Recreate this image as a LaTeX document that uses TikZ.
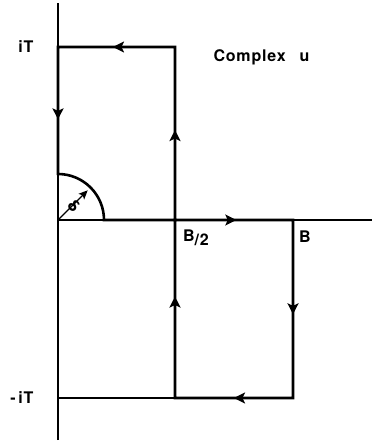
\documentclass[tikz,border=0pt]{standalone}
\usepackage{fontspec}
\setsansfont{TeX Gyre Heros}
\usetikzlibrary{arrows.meta,calc}

\tikzset{
	contour/.style={line width=2.6pt, line cap=rect},
	tipped/.style={line width=2.6pt, -{Stealth[length=11pt,width=11pt,inset=2.5pt]}},
	axis/.style={line width=1.1pt},
	lbl/.style={font=\sffamily\bfseries\fontsize{16}{18}\selectfont\addfontfeatures{LetterSpace=5}},
}

\begin{document}
\begin{tikzpicture}[x=1pt, y=1pt]

		\def\T{173}   % height of iT
		\def\mT{-178} % height of -iT
		\def\B{235}   % B
		\def\Bh{117}  % B/2
		\def\rad{46}  % radius delta

		\useasboundingbox (-58,-224) rectangle (314,220);

		% corner points of the contour
		\coordinate (O) at (0,0);
		\coordinate (top) at (0,217);
		\coordinate (bot) at (0,-220);
		\coordinate (xend) at (314,0);
		\coordinate (d0) at (\rad,0);
		\coordinate (d1) at (0,\rad);
		\coordinate (Bp) at (\B,0);
		\coordinate (BmT) at (\B,\mT);
		\coordinate (HmT) at (\Bh,\mT);
		\coordinate (H0) at (\Bh,0);
		\coordinate (HT) at (\Bh,\T);
		\coordinate (iT) at (0,\T);
		\coordinate (mT) at (0,\mT);

		% Axes
		\draw[axis] (bot) -- (top);
		\draw[axis] (O) -- (xend);
		\draw[axis] (mT) -- (HmT);

		% contour
		\draw[contour] (d0) -- (Bp) -- (BmT) -- (HmT) -- (HT) -- (iT) -- (d1)
			arc[start angle=90, end angle=0, radius=\rad];

		% direction arrows on the contour
		\draw[tipped] (d0) -- ($(d0)!0.70!(Bp)$);
		\draw[tipped] (Bp) -- ($(Bp)!0.53!(BmT)$);
		\draw[tipped] (BmT) -- ($(BmT)!0.50!(HmT)$);
		\draw[tipped] (HmT) -- ($(HmT)!0.57!(H0)$);
		\draw[tipped] (H0) -- ($(H0)!0.52!(HT)$);
		\draw[tipped] (HT) -- ($(HT)!0.53!(iT)$);
		\draw[tipped] (iT) -- ($(iT)!0.57!(d1)$);

		% radius delta
		\coordinate (dr) at (45:42);
		\draw[line width=1.2pt, -{Stealth[length=9pt,width=8pt,inset=2pt]}] (O) -- (dr);
		\node[lbl, rotate=-45] (delta) at (16,14) {δ};

		% labels
		\node[lbl] (lT) at (-32,\T) {iT};
		\node[lbl] (lmT) at (-36,\mT) {-\,iT};
		\node[lbl] (lBh) at (138,-18) {B\raisebox{-4pt}{/2}};
		\node[lbl] (lB) at (247,-17) {B};
		\node[lbl, anchor=west] (title) at (152,163) {Complex\hspace{14pt}u};

	\end{tikzpicture}
\end{document}
